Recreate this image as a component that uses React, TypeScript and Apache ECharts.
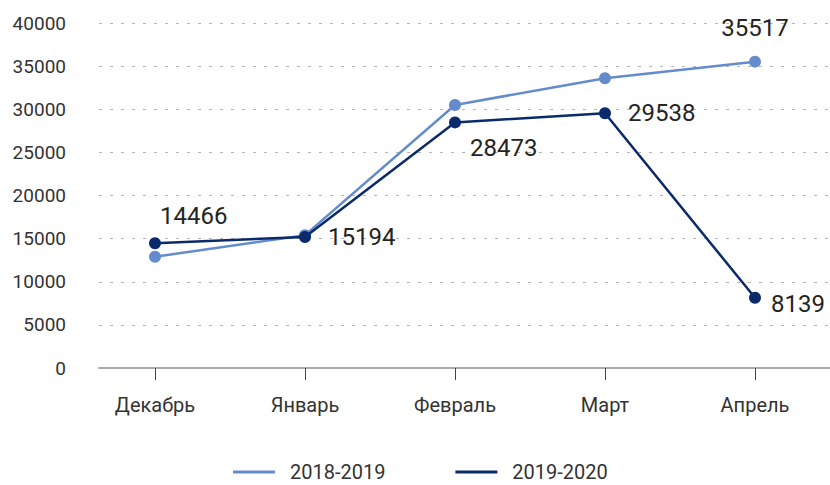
import React, { useEffect, useRef } from "react";
import * as echarts from "echarts";

const categories = ["Декабрь", "Январь", "Февраль", "Март", "Апрель"];
const seriesNames = ["2018-2019", "2019-2020"];
const values1819 = [12900, 15400, 30500, 33600, 35517];
const values1920 = [14466, 15194, 28473, 29538, 8139];
const yTicks = [0, 5000, 10000, 15000, 20000, 25000, 30000, 35000, 40000];

const LIGHT = "#648ccd";
const DARK = "#0b2a6c";
const TEXT = "#333333";
const FONT = "Roboto, 'Noto Sans', sans-serif";

export default function App() {
  const ref = useRef<HTMLDivElement>(null);
  useEffect(() => {
    if (!ref.current) return;
    const chart = echarts.init(ref.current, undefined, { renderer: "svg" });
    const idx = categories.map((_, i) => i);
    const labelOffsets1920: Array<[number, number]> = [
      [-6, -27],
      [12, 0],
      [4, 26],
      [12, 0],
      [5, 6],
    ];
    chart.setOption({
      animation: false,
      textStyle: { fontFamily: FONT },
      grid: { left: 99, right: 0, top: 23, bottom: 117, containLabel: false },
      xAxis: {
        type: "value",
        min: -0.3733,
        max: 4.5,
        splitLine: { show: false },
        axisLine: { show: true, lineStyle: { color: "#aaaaaa", width: 2 } },
        axisTick: {
          show: true,
          customValues: idx,
          length: 12,
          lineStyle: { color: "#444444", width: 1 },
        },
        axisLabel: {
          customValues: idx,
          margin: 27,
          color: TEXT,
          fontSize: 20,
          fontFamily: FONT,
          formatter: (v: number) => categories[Math.round(v)] ?? "",
        },
      },
      yAxis: {
        type: "value",
        min: yTicks[0],
        max: yTicks[yTicks.length - 1],
        interval: 5000,
        axisLine: { show: false },
        axisTick: { show: false },
        axisLabel: {
          margin: 33,
          color: TEXT,
          fontSize: 19,
          fontFamily: FONT,
          formatter: (v: number) => String(v),
        },
        splitLine: {
          show: true,
          lineStyle: { color: "#b5b5b5", type: [3, 8], width: 1 },
        },
      },
      legend: {
        left: 233,
        top: 461,
        padding: 0,
        icon: "rect",
        itemWidth: 42,
        itemHeight: 3,
        itemGap: 70,
        textStyle: { color: TEXT, fontSize: 20, lineHeight: 22, fontFamily: FONT },
        data: seriesNames.map((n) => ({ name: n })),
        formatter: (n: string) => "  " + n,
      },
      series: [
        {
          name: seriesNames[0],
          type: "line",
          data: values1819.map((v, i) => ({
            value: [i, v],
            label:
              i === 4
                ? {
                    show: true,
                    position: "top",
                    distance: 5,
                    offset: [0, -11],
                    formatter: String(v),
                    color: "#252423",
                    fontSize: 24,
                    fontFamily: FONT,
                  }
                : { show: false },
          })),
          symbol: "circle",
          symbolSize: 12,
          lineStyle: { color: LIGHT, width: 2.5 },
          itemStyle: { color: LIGHT },
          z: 2,
        },
        {
          name: seriesNames[1],
          type: "line",
          data: values1920.map((v, i) => ({
            value: [i, v],
            label: {
              show: true,
              position: "right",
              distance: 5,
              offset: labelOffsets1920[i],
              formatter: String(v),
              color: "#252423",
              fontSize: 24,
              fontFamily: FONT,
            },
          })),
          symbol: "circle",
          symbolSize: 12,
          lineStyle: { color: DARK, width: 2.5 },
          itemStyle: { color: DARK },
          z: 3,
        },
      ],
    });
    return () => chart.dispose();
  }, []);
  return (
    <div
      ref={ref}
      style={{ position: "fixed", left: 0, top: 0, width: 830, height: 485, background: "#fff" }}
    />
  );
}
